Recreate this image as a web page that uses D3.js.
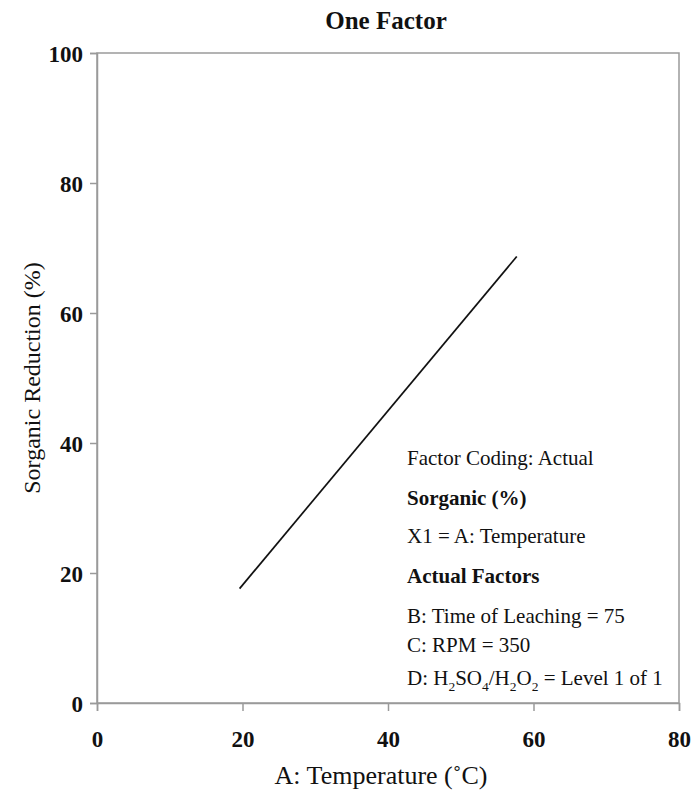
<!DOCTYPE html>
<html>
<head>
<meta charset="utf-8">
<script src="https://cdn.jsdelivr.net/npm/d3@7"></script>
<style>
  body { margin: 0; background: #fff; }
  text { font-family: "Liberation Serif", "DejaVu Serif", serif; fill: #111; }
</style>
</head>
<body>
<svg id="chart"></svg>
<script>
const width = 696, height = 794;
const margin = { top: 53, right: 17, bottom: 91, left: 97 };

// data
const xTicks = [0, 20, 40, 60, 80];
const yTicks = [0, 20, 40, 60, 80, 100];
const tempValues = [19.6, 57.7];
const reductionValues = [17.6, 68.7];

const notes = [
    { text: "Factor Coding: Actual", bold: false },
    { text: "Sorganic (%)", bold: true },
    { text: "X1 = A: Temperature", bold: false },
    { text: "Actual Factors", bold: true },
    { text: "B: Time of Leaching = 75", bold: false },
    { text: "C: RPM = 350", bold: false },
    { text: "D: H2SO4/H2O2 = Level 1 of 1", bold: false }
];
const noteY = [465, 505, 543, 583, 623, 652, 685];

const lineData = tempValues.map((t, i) => ({ x: t, y: reductionValues[i] }));

const svg = d3.select("#chart")
    .attr("width", width)
    .attr("height", height);

const xScale = d3.scaleLinear()
    .domain([0, 80])
    .range([margin.left, width - margin.right]);

const yScale = d3.scaleLinear()
    .domain([0, 100])
    .range([height - margin.bottom, margin.top]);

const axisColor = "#9a9a9a";

// frame
svg.append("rect")
    .attr("x", xScale(0))
    .attr("y", yScale(100))
    .attr("width", xScale(80) - xScale(0))
    .attr("height", yScale(0) - yScale(100))
    .attr("fill", "none")
    .attr("stroke", axisColor)
    .attr("stroke-width", 1.5);

const xAxis = g => g
    .attr("transform", `translate(0,${yScale(0)})`)
    .call(d3.axisBottom(xScale).tickValues(xTicks).tickSizeOuter(0).tickSize(8))

const yAxis = g => g
    .attr("transform", `translate(${xScale(0)},0)`)
    .call(d3.axisLeft(yScale).tickValues(yTicks).tickSizeOuter(0).tickSize(7).tickPadding(7))

const gx = svg.append("g").call(xAxis);
const gy = svg.append("g").call(yAxis);

[gx, gy].forEach(g => {
    g.select(".domain").attr("stroke", axisColor).attr("stroke-width", 1.5);
    g.selectAll(".tick line").attr("stroke", axisColor).attr("stroke-width", 1.5);
    g.selectAll(".tick text")
        .attr("font-family", "Liberation Serif")
        .attr("font-size", 23)
        .attr("font-weight", "bold")
        .attr("fill", "#111");
});
gx.selectAll(".tick text").attr("y", 44).attr("dy", 0);
gy.selectAll(".tick text").attr("dy", "0.35em");

// fitted line
const line = d3.line()
    .x(d => xScale(d.x))
    .y(d => yScale(d.y));

svg.append("path")
    .datum(lineData)
    .attr("fill", "none")
    .attr("stroke", "#111")
    .attr("stroke-width", 1.7)
    .attr("d", line);

// title + axis titles
svg.append("text")
    .attr("x", 386)
    .attr("y", 29)
    .attr("text-anchor", "middle")
    .attr("font-size", 25)
    .attr("font-weight", "bold")
    .text("One Factor");

svg.append("text")
    .attr("x", 381)
    .attr("y", 784)
    .attr("text-anchor", "middle")
    .attr("font-size", 26)
    .text("A: Temperature (˚C)");

svg.append("text")
    .attr("transform", `translate(40,${(yScale(0) + yScale(100)) / 2}) rotate(-90)`)
    .attr("text-anchor", "middle")
    .attr("font-size", 24)
    .text("Sorganic Reduction (%)");

// annotation block
const noteSize = 21;
const notesG = svg.append("g");
notes.forEach((n, i) => {
    const t = notesG.append("text")
        .attr("x", 407)
        .attr("y", noteY[i])
        .attr("font-size", noteSize)
        .attr("font-weight", n.bold ? "bold" : "normal");
    if (n.text.startsWith("D: H2SO4")) {
        // chemical formula with subscripts
        const parts = [["D: H", 0], ["2", 1], ["SO", 0], ["4", 1], ["/H", 0], ["2", 1], ["O", 0], ["2", 1], [" = Level 1 of 1", 0]];
        let lowered = false;
        parts.forEach(([s, sub]) => {
            let dy = 0;
            if (sub && !lowered) { dy = 6; lowered = true; }
            else if (!sub && lowered) { dy = -6; lowered = false; }
            t.append("tspan")
                .attr("font-size", sub ? 13.5 : noteSize)
                .attr("dy", dy)
                .text(s);
        });
    } else {
        t.text(n.text);
    }
});
</script>
</body>
</html>
